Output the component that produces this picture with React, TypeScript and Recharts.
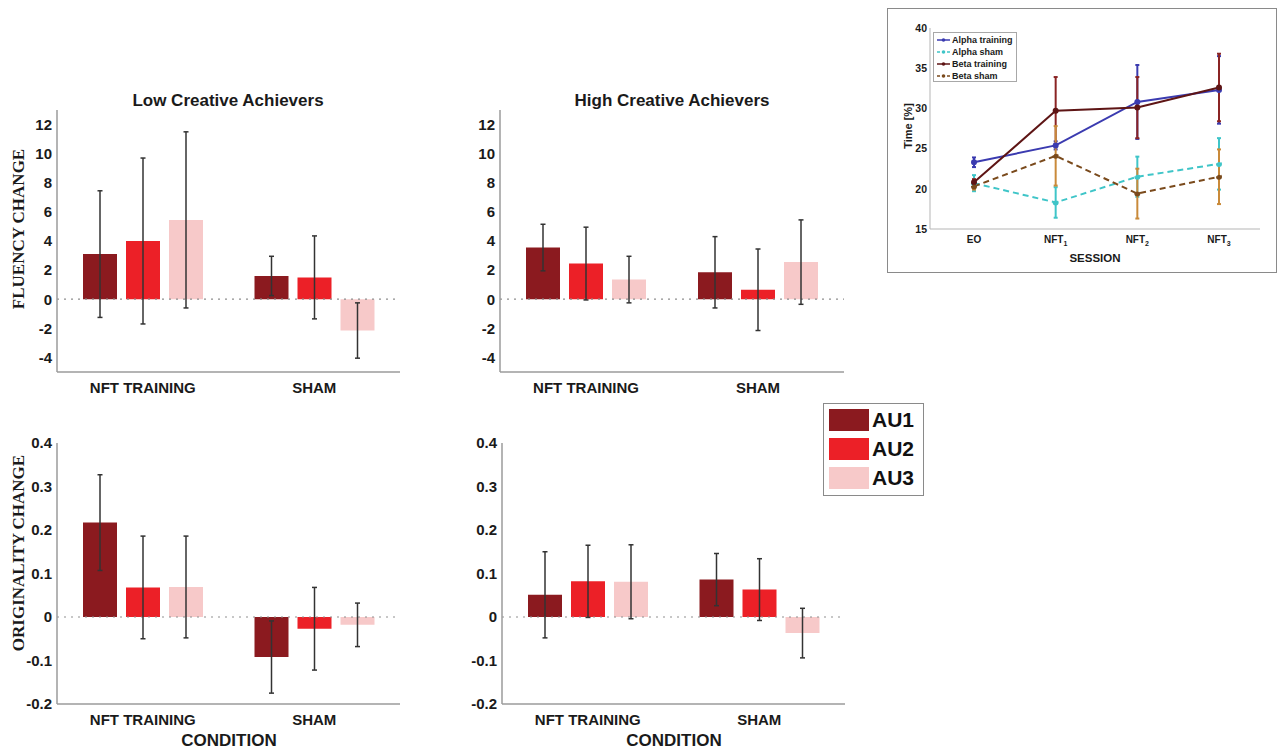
import { BarChart, Bar, XAxis, YAxis, ErrorBar, ReferenceLine, LineChart, Line, Legend } from 'recharts';

const conditions = ['NFT TRAINING', 'SHAM'];
const units = ['AU1', 'AU2', 'AU3'];
const unitColors = ['#8b1a1f', '#ec2027', '#f7c9c9'];

// rows = condition (NFT TRAINING, SHAM), cols = AU1..AU3
const fluencyLow = [[3.1, 4.0, 5.45], [1.6, 1.5, -2.15]];
const fluencyLowErr = [[4.35, 5.7, 6.05], [1.35, 2.85, 1.9]];
const fluencyHigh = [[3.55, 2.45, 1.35], [1.85, 0.65, 2.55]];
const fluencyHighErr = [[1.6, 2.5, 1.6], [2.45, 2.8, 2.9]];
const originalityLow = [[0.217, 0.068, 0.069], [-0.092, -0.027, -0.018]];
const originalityLowErr = [[0.11, 0.118, 0.117], [0.083, 0.095, 0.05]];
const originalityHigh = [[0.051, 0.082, 0.081], [0.086, 0.063, -0.037]];
const originalityHighErr = [[0.099, 0.083, 0.085], [0.06, 0.071, 0.057]];

const fluencyTicks = [-4, -2, 0, 2, 4, 6, 8, 10, 12];
const originalityTicks = [-0.2, -0.1, 0, 0.1, 0.2, 0.3, 0.4];

// inset: time [%] per session
const sessions = ['EO', 'NFT1', 'NFT2', 'NFT3'];
const alphaTraining = [23.3, 25.4, 30.8, 32.3];
const alphaTrainingErr = [0.6, 0.5, 4.6, 4.2];
const alphaSham = [20.7, 18.3, 21.5, 23.1];
const alphaShamErr = [1.0, 1.9, 2.5, 3.2];
const betaTraining = [20.8, 29.7, 30.1, 32.6];
const betaTrainingErr = [0.4, 4.2, 3.8, 4.2];
const betaSham = [20.3, 24.1, 19.4, 21.5];
const betaShamErr = [0.4, 3.7, 3.1, 3.4];

const lineSeries = [
  { key: 'alphaTraining', name: 'Alpha training', color: '#3b3bb0', err: '#3b3bb0', dash: undefined },
  { key: 'alphaSham', name: 'Alpha sham', color: '#3fc5c8', err: '#3fc5c8', dash: '6 4' },
  { key: 'betaTraining', name: 'Beta training', color: '#5e1515', err: '#8a2424', dash: undefined },
  { key: 'betaSham', name: 'Beta sham', color: '#7a4a1c', err: '#c98a3a', dash: '6 4' },
];

const buildRows = (means: number[][], errs: number[][]) =>
  conditions.map((condition, i) => {
    const row: any = { condition };
    units.forEach((u, j) => {
      row[u] = means[i][j];
      row[u + 'err'] = errs[i][j];
    });
    return row;
  });

const sessionRows = sessions.map((session, i) => ({
  session,
  alphaTraining: alphaTraining[i],
  alphaTrainingErr: alphaTrainingErr[i],
  alphaSham: alphaSham[i],
  alphaShamErr: alphaShamErr[i],
  betaTraining: betaTraining[i],
  betaTrainingErr: betaTrainingErr[i],
  betaSham: betaSham[i],
  betaShamErr: betaShamErr[i],
}));

const axisStroke = { stroke: '#9b9b9b', strokeWidth: 1.5 };
const tickText = { fill: '#1a1a1a', fontSize: 15, fontWeight: 700 };

function Panel({ left, top, width, height, mTop, mBottom, data, domain, ticks }: any) {
  return (
    <div style={{ position: 'absolute', left, top }}>
      <BarChart
        width={width}
        height={height}
        data={data}
        margin={{ top: mTop, right: 20, bottom: mBottom, left: 0 }}
        barCategoryGap={26}
        barGap={9}
      >
        <XAxis dataKey="condition" height={28} interval={0} tickLine={false} tickSize={0} tickMargin={10}
          axisLine={axisStroke} tick={tickText} />
        <YAxis type="number" width={57} domain={domain} ticks={ticks} allowDataOverflow interval={0}
          tickLine={false} tickSize={0} tickMargin={5} axisLine={axisStroke} tick={tickText} />
        <ReferenceLine y={0} stroke="#8f8f8f" strokeWidth={1.2} strokeDasharray="2 5" />
        {units.map((u, j) => (
          <Bar key={u} dataKey={u} fill={unitColors[j]} isAnimationActive={false}>
            <ErrorBar dataKey={u + 'err'} direction="y" width={2.5} stroke="#333" strokeWidth={1.5} />
          </Bar>
        ))}
      </BarChart>
    </div>
  );
}

const SessionTick = ({ x, y, payload }: any) => {
  const m = String(payload.value).match(/^NFT(\d)$/);
  return (
    <text x={x} y={y} dy="0.71em" textAnchor="middle" fill="#1a1a1a" fontSize={10} fontWeight={700}>
      {m ? (
        <>
          NFT<tspan fontSize={7} dy={3}>{m[1]}</tspan>
        </>
      ) : (
        payload.value
      )}
    </text>
  );
};

const InsetLegend = () => (
  <div style={{ width: 84, height: 50, border: '1px solid #a8a8a8', background: '#fff', boxSizing: 'border-box',
    paddingTop: 1, fontSize: 9, fontWeight: 700, color: '#1a1a1a', whiteSpace: 'nowrap', overflow: 'visible' }}>
    {lineSeries.map((s) => (
      <div key={s.key} style={{ display: 'flex', alignItems: 'center', height: 12, whiteSpace: 'nowrap' }}>
        <svg width={15} height={8} style={{ marginLeft: 2, marginRight: 1, flexShrink: 0 }}>
          <line x1={1} y1={4} x2={14} y2={4} stroke={s.color} strokeWidth={1.5} strokeDasharray={s.dash ? '3 2' : undefined} />
          <circle cx={7.5} cy={4} r={1.8} fill={s.color} />
        </svg>
        <span style={{ whiteSpace: 'nowrap' }}>{s.name}</span>
      </div>
    ))}
  </div>
);

export default function App() {
  const boldSans = { fontFamily: '"Liberation Sans", Arial, sans-serif', fontWeight: 700, fill: '#1a1a1a' };
  const boldSerif = { fontFamily: '"Liberation Serif", "Times New Roman", serif', fontWeight: 700, fill: '#1a1a1a' };
  return (
    <div style={{ position: 'absolute', left: 0, top: 0, width: 1283, height: 750, background: '#fff',
      fontFamily: '"Liberation Sans", Arial, sans-serif', overflow: 'hidden' }}>
      <Panel left={0} top={80} width={420} height={320} mTop={30} mBottom={0}
        data={buildRows(fluencyLow, fluencyLowErr)} domain={[-5, 13]} ticks={fluencyTicks} />
      <Panel left={443} top={80} width={421} height={320} mTop={30} mBottom={0}
        data={buildRows(fluencyHigh, fluencyHighErr)} domain={[-5, 13]} ticks={fluencyTicks} />
      <Panel left={0} top={420} width={420} height={330} mTop={23} mBottom={18}
        data={buildRows(originalityLow, originalityLowErr)} domain={[-0.2, 0.4]} ticks={originalityTicks} />
      <Panel left={445} top={420} width={420} height={330} mTop={23} mBottom={18}
        data={buildRows(originalityHigh, originalityHighErr)} domain={[-0.2, 0.4]} ticks={originalityTicks} />

      {/* AU legend */}
      <div style={{ position: 'absolute', left: 823, top: 403, width: 101, height: 93, border: '1px solid #8a8a8a',
        boxSizing: 'border-box', background: '#fff' }}>
        {units.map((u, j) => (
          <div key={u} style={{ position: 'absolute', left: 5, top: 5 + j * 29, display: 'flex', alignItems: 'center' }}>
            <div style={{ width: 40, height: 22, background: unitColors[j] }} />
            <span style={{ marginLeft: 3, fontSize: 21, fontWeight: 700, color: '#111', lineHeight: '22px' }}>{u}</span>
          </div>
        ))}
      </div>

      {/* inset */}
      <div style={{ position: 'absolute', left: 887, top: 8, width: 390, height: 265, border: '1.5px solid #8a8a8a',
        boxSizing: 'border-box', background: '#fff' }} />
      <div style={{ position: 'absolute', left: 887, top: 8 }}>
        <LineChart width={390} height={265} data={sessionRows} margin={{ top: 20, right: 17, bottom: 0, left: 0 }}>
          <XAxis dataKey="session" height={44} padding={{ left: 44, right: 41 }} interval={0} tickLine={false}
            tickSize={0} tickMargin={7} axisLine={{ stroke: '#b5b5b5' }} tick={<SessionTick />} />
          <XAxis xAxisId="top" orientation="top" dataKey="session" height={0} tick={false} tickLine={false}
            axisLine={{ stroke: '#b5b5b5' }} />
          <YAxis width={43} domain={[15, 40]} ticks={[15, 20, 25, 30, 35, 40]} interval={0} tickLine={false}
            tickSize={0} tickMargin={3} axisLine={{ stroke: '#b5b5b5' }}
            tick={{ fill: '#1a1a1a', fontSize: 10.5, fontWeight: 700 }} />
          <YAxis yAxisId="right" orientation="right" width={0} tick={false} tickLine={false}
            axisLine={{ stroke: '#b5b5b5' }} />
          <Legend layout="vertical" align="center" verticalAlign="middle"
            wrapperStyle={{ left: 46, top: 24, width: 84, height: 50 }} content={() => <InsetLegend />} />
          {lineSeries.map((s) => (
            <Line key={s.key} dataKey={s.key} name={s.name} stroke={s.color} strokeWidth={2}
              strokeDasharray={s.dash} dot={{ r: 2, fill: s.color, stroke: s.color }} isAnimationActive={false}>
              <ErrorBar dataKey={s.key + 'Err'} direction="y" width={2} stroke={s.err} strokeWidth={2} />
            </Line>
          ))}
        </LineChart>
      </div>

      {/* titles and axis names */}
      <svg width={1283} height={750} style={{ position: 'absolute', left: 0, top: 0, pointerEvents: 'none' }}>
        <text x={228} y={100} textAnchor="middle" dominantBaseline="central" fontSize={17} {...boldSans}>Low Creative Achievers</text>
        <text x={672} y={100} textAnchor="middle" dominantBaseline="central" fontSize={17} {...boldSans}>High Creative Achievers</text>
        <text x={18} y={229} textAnchor="middle" dominantBaseline="central" fontSize={17} transform="rotate(-90 18 229)" {...boldSerif}>FLUENCY CHANGE</text>
        <text x={18} y={553} textAnchor="middle" dominantBaseline="central" fontSize={17} transform="rotate(-90 18 553)" {...boldSerif}>ORIGINALITY CHANGE</text>
        <text x={229} y={740} textAnchor="middle" dominantBaseline="central" fontSize={17} {...boldSans}>CONDITION</text>
        <text x={674} y={740} textAnchor="middle" dominantBaseline="central" fontSize={17} {...boldSans}>CONDITION</text>
        <text x={908} y={126} textAnchor="middle" dominantBaseline="central" fontSize={11} transform="rotate(-90 908 126)" {...boldSans}>Time [%]</text>
        <text x={1095} y={258} textAnchor="middle" dominantBaseline="central" fontSize={11.5} {...boldSans}>SESSION</text>
      </svg>
    </div>
  );
}
